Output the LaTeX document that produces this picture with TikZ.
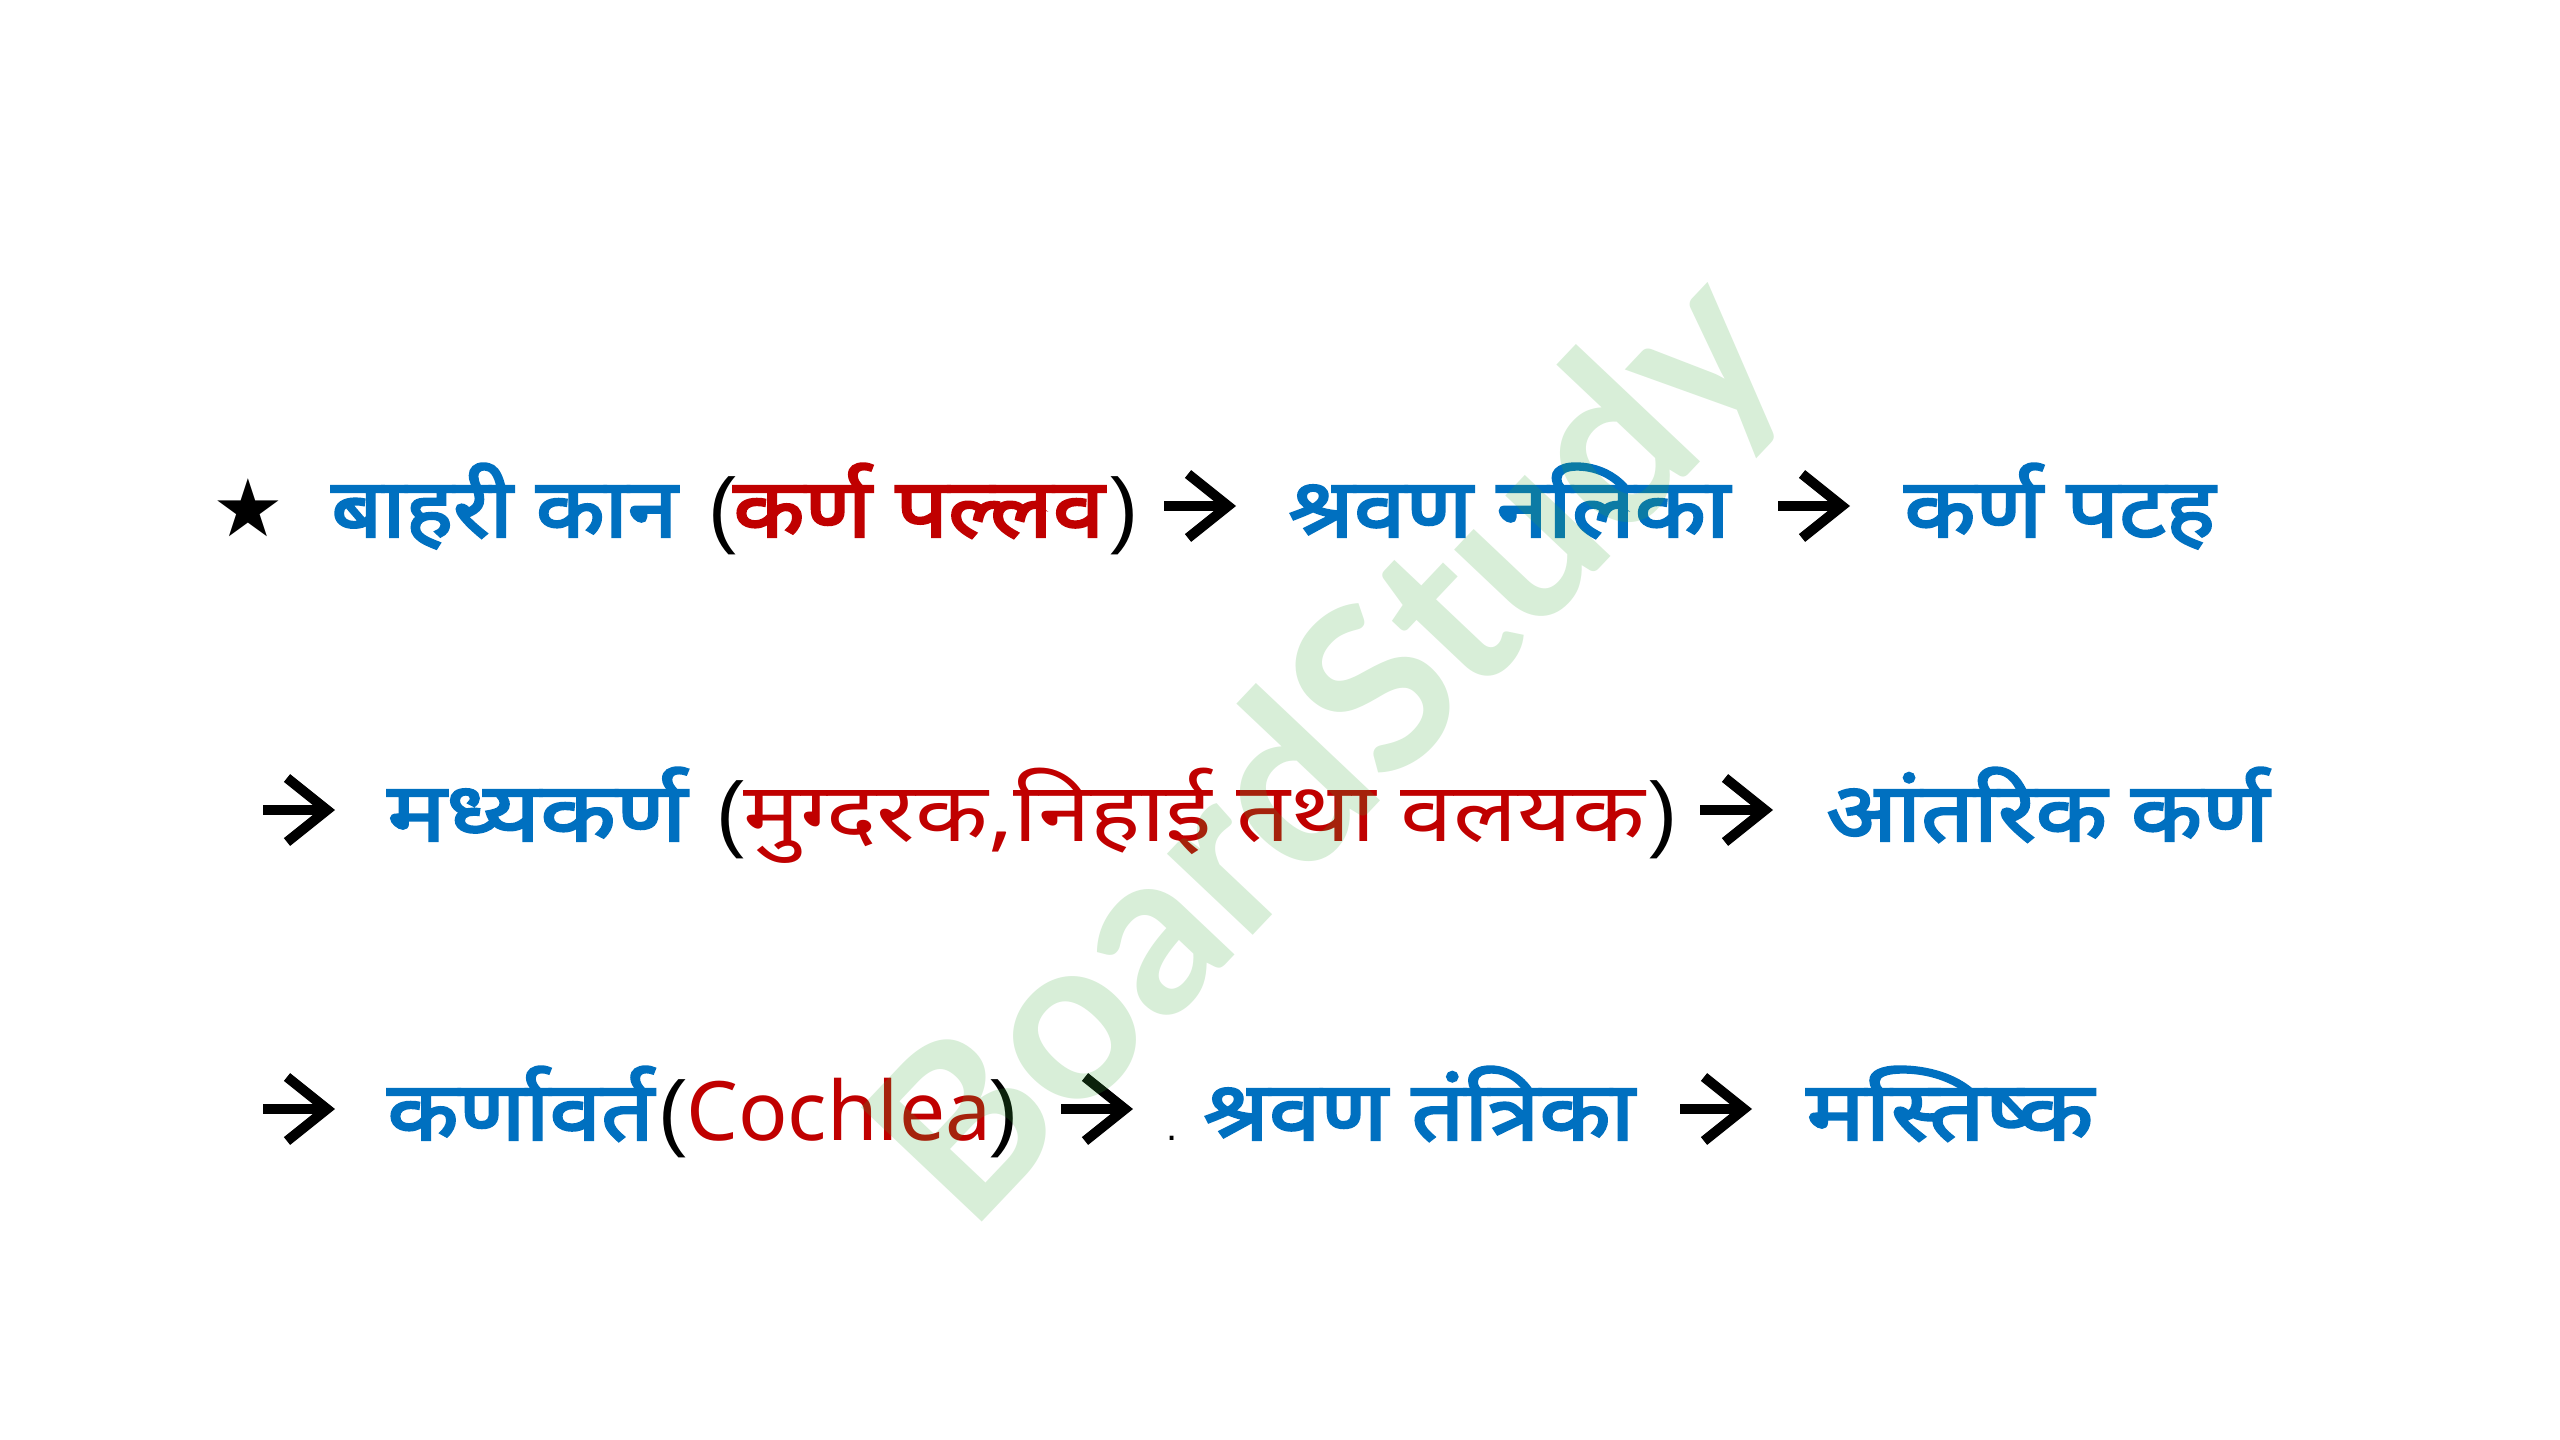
\documentclass[tikz,border=0pt]{standalone}
\usepackage{fontspec}
\usetikzlibrary{arrows.meta}
\newfontfamily\devreg[Script=Devanagari,FakeStretch=1.155]{Noto Sans}
\newfontfamily\devbold[Script=Devanagari,FakeStretch=1.13,FakeBold=3]{Noto Sans}
\newfontfamily\devboldn[Script=Devanagari,FakeStretch=1.09,FakeBold=3]{Noto Sans}
\newfontfamily\devboldw[Script=Devanagari,FakeStretch=1.2,FakeBold=3]{Noto Sans}
\newfontfamily\latfont{Noto Sans}
\newfontfamily\parenfont{Liberation Sans}
\newfontfamily\symfont{DejaVu Sans}
\newfontfamily\wmfont{Lato}
\definecolor{dblue}{HTML}{0070C0}
\definecolor{dred}{HTML}{C00000}
\definecolor{wmgreen}{RGB}{60,170,60}
\tikzset{
  txt/.style={inner sep=0pt, anchor=base west},
  bluebold/.style={txt, text=dblue, font=\devbold\fontsize{41}{48}\selectfont},
  bluenarrow/.style={txt, text=dblue, font=\devboldn\fontsize{41}{48}\selectfont},
  bluewide/.style={txt, text=dblue, font=\devboldw\fontsize{41}{48}\selectfont},
  redbold/.style={txt, text=dred, font=\devbold\fontsize{41}{48}\selectfont},
  redreg/.style={txt, text=dred, font=\devreg\fontsize{41}{48}\selectfont},
  redlat/.style={txt, text=dred, font=\latfont\fontsize{41}{48}\selectfont},
  paren/.style={txt, text=black, font=\parenfont\fontsize{42}{48}\selectfont},
  flow/.style={line width=5pt, black, -{Straight Barb[length=20pt,width=32pt,line width=5pt,sharp]}}
}
\begin{document}
\begin{tikzpicture}[x=0.5pt,y=-0.5pt]
\useasboundingbox (0,0) rectangle (2560,1440);
\fill[white] (0,0) rectangle (2560,1440);
% line 1
\node[inner sep=0pt, font=\symfont\fontsize{40}{46}\selectfont] (star) at (248,508) {★};
\node[bluenarrow] (outer) at (331,537) {बाहरी कान};
\node[paren] (p1l) at (708,537) {(};
\node[redbold] (pinna) at (733,537) {कर्ण पल्लव};
\node[paren] (p1r) at (1110,537) {)};
\node[bluebold] (canal) at (1288,537) {श्रवण नलिका};
\node[bluebold] (drum) at (1904,537) {कर्ण पटह};
\coordinate (a1s) at (1164,506); \coordinate (a1e) at (1236,506);
\coordinate (a2s) at (1778,506); \coordinate (a2e) at (1850,506);
\draw[flow] (a1s) -- (a1e);
\draw[flow] (a2s) -- (a2e);
% line 2
\node[bluewide] (middle) at (387,841) {मध्यकर्ण};
\node[paren] (p2l) at (716,841) {(};
\node[redreg] (ossicles) at (743,841) {मुग्दरक,निहाई तथा वलयक};
\node[paren] (p2r) at (1649,841) {)};
\node[bluebold] (inner) at (1826,841) {आंतरिक कर्ण};
\coordinate (a3s) at (263,810); \coordinate (a3e) at (335,810);
\coordinate (a4s) at (1700,810); \coordinate (a4e) at (1773,810);
\draw[flow] (a3s) -- (a3e);
\draw[flow] (a4s) -- (a4e);
% line 3
\node[bluebold] (cochlea) at (387,1140) {कर्णावर्त};
\node[paren] (p3l) at (658,1140) {(};
\node[redlat] (cochleaen) at (686,1140) {Cochlea};
\node[paren] (p3r) at (990,1140) {)};
\node[txt, text=black, font=\parenfont\fontsize{20}{24}\selectfont] (dot) at (1166,1140) {.};
\node[bluebold] (nerve) at (1203,1140) {श्रवण तंत्रिका};
\node[bluewide] (brain) at (1806,1140) {मस्तिष्क};
\coordinate (a5s) at (263,1109); \coordinate (a5e) at (335,1109);
\coordinate (a6s) at (1061,1109); \coordinate (a6e) at (1133,1109);
\coordinate (a7s) at (1680,1109); \coordinate (a7e) at (1752,1109);
\draw[flow] (a5s) -- (a5e);
\draw[flow] (a6s) -- (a6e);
\draw[flow] (a7s) -- (a7e);
% watermark
\node[inner sep=0pt, rotate=46.6, text=wmgreen, opacity=0.2, font=\wmfont\bfseries\fontsize{115}{130}\selectfont] (wm) at (1333,754) {BoardStudy};
\end{tikzpicture}
\end{document}
